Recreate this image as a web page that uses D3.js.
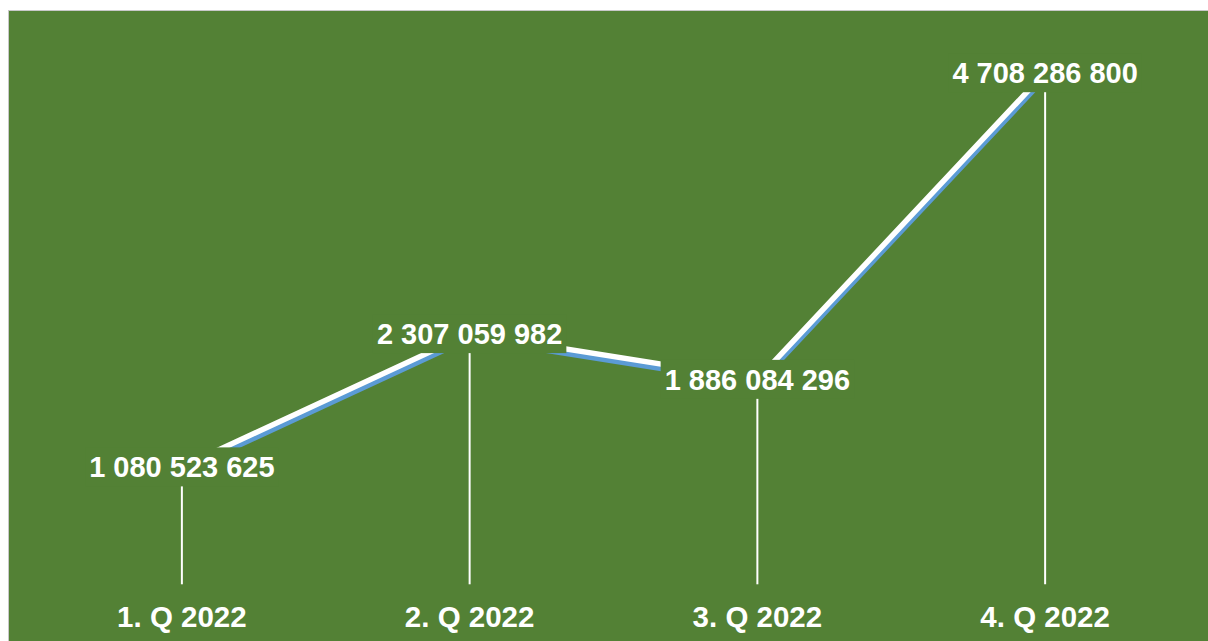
<!DOCTYPE html>
<html><head><meta charset="utf-8">
<script src="https://cdn.jsdelivr.net/npm/d3@7"></script>
<style>html,body{margin:0;padding:0;background:#fff;}svg{display:block;}</style>
</head><body>
<svg id="chart" width="1208" height="641"></svg>
<script>
const categories = ["1. Q 2022", "2. Q 2022", "3. Q 2022", "4. Q 2022"];
const values = [1080523625, 2307059982, 1886084296, 4708286800];

const W = 1208, H = 641;
const svg = d3.select("#chart");
const green = "#538135";

svg.append("rect").attr("x", 8).attr("y", 10).attr("width", W - 8).attr("height", H - 10).attr("fill", "#c8c8c8");
svg.append("rect").attr("x", 9).attr("y", 11).attr("width", W - 9).attr("height", H - 11).attr("fill", green);

const x = d3.scaleBand().domain(categories).range([38, 1189]);
const y = d3.scaleLinear().domain([0, 5e9]).range([584.3, 41]);
const cx = c => x(c) + x.bandwidth() / 2;

const fmt = d3.formatLocale({decimal: ",", thousands: " ", grouping: [3], currency: ["", ""]}).format(",d");
const data = categories.map((c, i) => ({c, v: values[i]}));

// drop lines
svg.append("g").selectAll("line").data(data).join("line")
  .attr("x1", d => cx(d.c)).attr("x2", d => cx(d.c))
  .attr("y1", d => y(d.v)).attr("y2", y(0))
  .attr("stroke", "#fff").attr("stroke-width", 2);

const line = d3.line().x(d => cx(d.c)).y(d => y(d.v));
svg.append("path").datum(data).attr("d", line)
  .attr("transform", "translate(0.5,4.5)")
  .attr("fill", "none").attr("stroke", "#5b9bd5").attr("stroke-width", 5.5);
svg.append("path").datum(data).attr("d", line)
  .attr("fill", "none").attr("stroke", "#fff").attr("stroke-width", 5.5);

// value labels
const lg = svg.append("g").selectAll("g").data(data).join("g")
  .attr("transform", d => `translate(${cx(d.c)},${y(d.v)})`);
lg.append("text")
  .attr("text-anchor", "middle").attr("dy", "0.35em")
  .attr("font-family", "Liberation Sans, Arial, sans-serif")
  .attr("font-weight", "bold").attr("font-size", 29).attr("fill", "#fff")
  .text(d => fmt(d.v));
lg.each(function() {
  const g = d3.select(this);
  const bb = g.select("text").node().getBBox();
  g.insert("rect", "text").attr("x", bb.x - 4).attr("y", -19.5)
    .attr("width", bb.width + 8).attr("height", 39).attr("fill", green);
});

// category labels
svg.append("g").selectAll("text").data(categories).join("text")
  .attr("x", d => cx(d)).attr("y", 627)
  .attr("text-anchor", "middle")
  .attr("font-family", "Liberation Sans, Arial, sans-serif")
  .attr("font-weight", "bold").attr("font-size", 29.5).attr("fill", "#fff")
  .text(d => d);
</script>
</body></html>
